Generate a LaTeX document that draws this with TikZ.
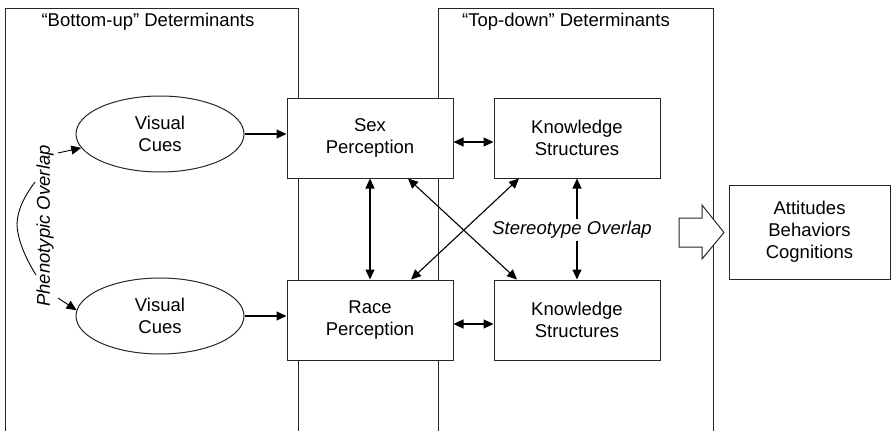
\documentclass[tikz,border=0pt]{standalone}
\usepackage{fontspec}
\setmainfont{Liberation Sans}
\usetikzlibrary{arrows.meta,shapes.geometric}
\tikzset{
  ink/.style={draw=black!85, line width=1pt},
  lbl/.style={font=\fontsize{18.5}{22}\selectfont, align=center},
  boxnode/.style={ink, lbl, fill=white, rectangle, minimum width=166pt, minimum height=80pt, inner sep=0pt},
  cue/.style={ink, lbl, fill=white, ellipse, minimum width=168pt, minimum height=76pt, inner sep=0pt},
  link/.style={draw=black, line width=1.1pt, -{Triangle[length=10pt,width=9pt]}},
  dlink/.style={draw=black, line width=1.1pt, {Triangle[length=10pt,width=9pt]}-{Triangle[length=10pt,width=9pt]}},
  tilt/.style={font=\fontsize{18.5}{22}\selectfont\itshape}
}
\begin{document}
\begin{tikzpicture}[x=1pt,y=-1pt]
\useasboundingbox (0,0) rectangle (891,431);

% open determinant frames
\draw[ink] (5,431) -- (5,8) -- (298,8) -- (298,431);
\draw[ink] (438,431) -- (438,8) -- (713,8) -- (713,431);
\node[lbl] (hbu) at (148,22) {``Bottom-up'' Determinants};
\node[lbl] (htd) at (566,22) {``Top-down'' Determinants};

% cues and perceptions
\node[cue] (v1) at (160,134) {Visual\\Cues};
\node[cue] (v2) at (160,316) {Visual\\Cues};
\node[boxnode] (sex) at (370,138) {Sex\\Perception};
\node[boxnode] (race) at (370,320) {Race\\Perception};
\node[boxnode] (k1) at (577,138) {Knowledge\\Structures};
\node[boxnode] (k2) at (577,320) {Knowledge\\Structures};
\node[ink, lbl, fill=white, rectangle, minimum width=161pt, minimum height=94pt, inner sep=0pt] (abc) at (809.5,232) {Attitudes\\Behaviors\\Cognitions};

% feed-forward links
\draw[link] (v1.east) -- (v1.east -| sex.west);
\draw[link] (v2.east) -- (v2.east -| race.west);
\draw[dlink] ([yshift=-4pt]sex.east) -- ([yshift=-4pt]k1.west);
\draw[dlink] ([yshift=-4pt]race.east) -- ([yshift=-4pt]k2.west);
\draw[dlink] (sex.south) -- (race.north);
\draw[dlink] ([xshift=38pt]sex.south) -- ([xshift=-60pt]k2.north);
\draw[dlink] ([xshift=-58pt]k1.south) -- ([xshift=41pt]race.north);
\draw[dlink] (k1.south) -- (k2.north);
\node[tilt, fill=white, inner sep=2pt] (so) at (572,230) {Stereotype Overlap};

% phenotypic overlap
\node[tilt, rotate=90] (po) at (45,226) {Phenotypic Overlap};
\coordinate (p1) at (58,153);
\coordinate (p2) at (58,298);
\draw[link, line width=0.9pt, -{Triangle[length=10pt,width=9pt]}] (p1) -- (v1.190);
\draw[link, line width=0.9pt, -{Triangle[length=10pt,width=9pt]}] (p2) -- (v2.176);
\draw[black, line width=0.9pt] (35,182) .. controls (23,198) and (17,212) .. (17,225)
  .. controls (18,243) and (28,262) .. (36,275);

% outcome arrow
\draw[ink, fill=white] (679,218) -- (702,218) -- (702,205) -- (724,232.5) -- (702,259) -- (702,247) -- (679,247) -- cycle;
\end{tikzpicture}
\end{document}
